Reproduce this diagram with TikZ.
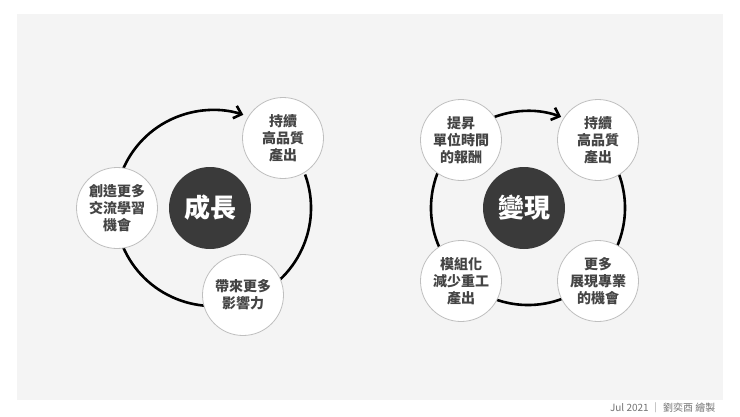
\documentclass[tikz,border=0pt]{standalone}
\usepackage{fontspec}
\setmainfont{Noto Sans CJK TC}
\usetikzlibrary{arrows.meta,calc}
\definecolor{bg}{HTML}{F4F4F4}
\definecolor{dark}{HTML}{3A3A3A}
\definecolor{txt}{HTML}{444444}
\begin{document}
\begin{tikzpicture}[x=1pt,y=-1pt,
  small/.style={circle,draw=black!25,line width=0.8pt,fill=white,minimum size=81pt,inner sep=0pt,align=center,font=\fontsize{14}{17}\selectfont\bfseries,text=txt},
  big/.style={circle,fill=dark,minimum size=82pt,inner sep=0pt,font=\fontsize{26}{28}\selectfont\bfseries,text=white},
  cyc/.style={line width=2.6pt,-{Straight Barb[length=7pt,width=13pt,line width=2.6pt]}}]
\useasboundingbox (0,0) rectangle (740,416);
\fill[white] (0,0) rectangle (740,416);
\fill[bg] (17,14) rectangle (723,400);
% left
\coordinate (lc) at (213,208);
\draw[cyc] ($(lc)+(-20:98)$) arc[start angle=-20,end angle=288,radius=98];
\node[big] (g) at (210,208) {成長};
\node[small] (l1) at (283,138) {持續\\高品質\\產出};
\node[small] (l2) at (117,208) {創造更多\\交流學習\\機會};
\node[small] (l3) at (243,295) {帶來更多\\影響力};
% right
\coordinate (rc) at (528,208);
\draw[cyc] ($(rc)+(-30:97)$) arc[start angle=-30,end angle=290,radius=97];
\node[big] (m) at (524,208) {變現};
\node[small] (r1) at (461,140) {提昇\\單位時間\\的報酬};
\node[small] (r2) at (598,140) {持續\\高品質\\產出};
\node[small] (r3) at (461,281) {模組化\\減少重工\\產出};
\node[small] (r4) at (598,281) {更多\\展現專業\\的機會};
\node[anchor=east,font=\fontsize{10}{11}\selectfont,text=black!55] (ft) at (719,408) {Jul 2021 ｜ 劉奕酉 繪製};
\end{tikzpicture}
\end{document}
